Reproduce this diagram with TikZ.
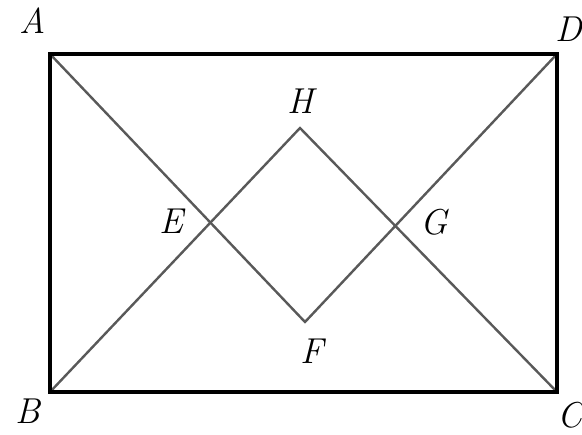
\documentclass[tikz,border=0pt]{standalone}
\usepackage{fontspec}
\begin{document}
\begin{tikzpicture}[x=1pt,y=-1pt,
  frame/.style={line width=3.6pt,black},
  inner/.style={line width=2.4pt,black!65},
  lbl/.style={font=\fontsize{36}{42}\selectfont\itshape,inner sep=0pt}]
\useasboundingbox (0,0) rectangle (582,435);
\coordinate (A) at (50,54);
\coordinate (D) at (557,54);
\coordinate (B) at (50,392);
\coordinate (C) at (557,392);
\coordinate (H) at (300,128);
\coordinate (F) at (305,322);
\coordinate (E) at (210,223);
\coordinate (G) at (396,225);
\draw[inner] (A) -- (F) -- (D);
\draw[inner] (B) -- (H) -- (C);
\draw[frame,line join=miter] (A) -- (D) -- (C) -- (B) -- cycle;
\node[lbl] (lA) at (33,21) {A};
\node[lbl] (lD) at (569,29) {D};
\node[lbl] (lB) at (28,411) {B};
\node[lbl] (lC) at (570,415) {C};
\node[lbl] (lH) at (301,101) {H};
\node[lbl] (lF) at (312,351) {F};
\node[lbl] (lE) at (171,221) {E};
\node[lbl] (lG) at (434,222) {G};
\end{tikzpicture}
\end{document}
